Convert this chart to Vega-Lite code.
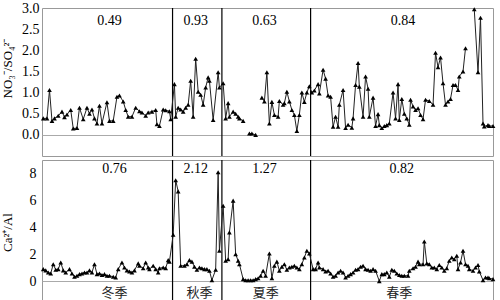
{
  "$schema": "https://vega.github.io/schema/vega-lite/v6.json",
  "padding": {"left": 0, "top": 0, "right": 0, "bottom": 0},
  "spacing": 0,
  "background": "white",
  "config": {
    "view": {"stroke": "#999", "strokeWidth": 1},
    "axis": {"labelFont": "Liberation Serif, Times New Roman, serif", "titleFont": "Liberation Serif, Times New Roman, serif", "labelFontSize": 14, "titleFontSize": 13, "labelColor": "black", "titleColor": "black", "titleFontWeight": "normal", "domain": false}
  },
  "datasets": {
    "no3": [
      {"day":1,"value":0.39,"seg":1},{"day":4,"value":0.39,"seg":1},{"day":6,"value":1.06,"seg":1},{"day":8,"value":0.33,"seg":1},{"day":10,"value":0.39,"seg":1},{"day":13,"value":0.45,"seg":1},{"day":16,"value":0.55,"seg":1},{"day":18,"value":0.42,"seg":1},{"day":20,"value":0.48,"seg":1},{"day":23,"value":0.59,"seg":1},{"day":25,"value":0.15,"seg":1},{"day":28,"value":0.16,"seg":1},{"day":30,"value":0.64,"seg":1},{"day":33,"value":0.37,"seg":1},{"day":36,"value":0.64,"seg":1},{"day":38,"value":0.5,"seg":1},{"day":40,"value":0.6,"seg":1},{"day":42,"value":0.39,"seg":1},{"day":44,"value":0.27,"seg":1},{"day":46,"value":0.69,"seg":1},{"day":48,"value":0.27,"seg":1},{"day":52,"value":0.77,"seg":1},{"day":54,"value":0.33,"seg":1},{"day":57,"value":0.33,"seg":1},{"day":60,"value":0.9,"seg":1},{"day":62,"value":0.93,"seg":1},{"day":65,"value":0.79,"seg":1},{"day":67,"value":0.59,"seg":1},{"day":69,"value":0.43,"seg":1},{"day":72,"value":0.43,"seg":1},{"day":75,"value":0.64,"seg":1},{"day":78,"value":0.56,"seg":1},{"day":80,"value":0.53,"seg":1},{"day":83,"value":0.45,"seg":1},{"day":85,"value":0.53,"seg":1},{"day":88,"value":0.55,"seg":1},{"day":91,"value":0.59,"seg":1},{"day":92,"value":0.25,"seg":1},{"day":94,"value":0.21,"seg":1},{"day":97,"value":0.6,"seg":1},{"day":99,"value":0.58,"seg":1},{"day":102,"value":0.56,"seg":1},{"day":103,"value":0.37,"seg":1},
      {"day":106,"value":1.2,"seg":1},{"day":107,"value":0.43,"seg":1},{"day":109,"value":0.64,"seg":1},{"day":111,"value":0.6,"seg":1},{"day":113,"value":0.55,"seg":1},{"day":115,"value":0.64,"seg":1},{"day":117,"value":0.71,"seg":1},{"day":119,"value":1.28,"seg":1},{"day":121,"value":0.43,"seg":1},{"day":123,"value":1.8,"seg":1},{"day":125,"value":1.02,"seg":1},{"day":127,"value":0.95,"seg":1},{"day":129,"value":0.71,"seg":1},{"day":131,"value":1.12,"seg":1},{"day":133,"value":1.36,"seg":1},{"day":134,"value":1.28,"seg":1},{"day":137,"value":0.35,"seg":1},{"day":141,"value":1.48,"seg":1},{"day":142,"value":1.12,"seg":1},
      {"day":145,"value":1.22,"seg":1},{"day":147,"value":0.39,"seg":1},{"day":149,"value":0.75,"seg":1},{"day":150,"value":0.43,"seg":1},{"day":153,"value":0.55,"seg":1},{"day":155,"value":0.5,"seg":1},{"day":157,"value":0.43,"seg":1},{"day":158,"value":0.39,"seg":1},{"day":161,"value":0.33,"seg":1},{"day":166,"value":0.03,"seg":2},{"day":168,"value":0.03,"seg":2},{"day":171,"value":0.0,"seg":2},{"day":176,"value":0.88,"seg":3},{"day":178,"value":0.79,"seg":3},{"day":180,"value":1.48,"seg":3},{"day":182,"value":0.27,"seg":3},{"day":184,"value":0.78,"seg":3},{"day":186,"value":0.47,"seg":3},{"day":189,"value":0.43,"seg":3},{"day":190,"value":0.8,"seg":3},{"day":193,"value":0.71,"seg":3},{"day":194,"value":0.75,"seg":3},{"day":196,"value":1.02,"seg":3},{"day":198,"value":0.79,"seg":3},{"day":200,"value":0.59,"seg":3},{"day":202,"value":0.47,"seg":3},{"day":204,"value":0.09,"seg":3},{"day":206,"value":0.47,"seg":3},{"day":208,"value":1.0,"seg":3},{"day":210,"value":0.78,"seg":3},{"day":212,"value":1.0,"seg":3},{"day":214,"value":1.15,"seg":3},
      {"day":216,"value":1.0,"seg":3},{"day":218,"value":1.05,"seg":3},{"day":221,"value":1.2,"seg":3},{"day":222,"value":0.98,"seg":3},{"day":225,"value":1.54,"seg":3},{"day":227,"value":1.33,"seg":3},{"day":229,"value":0.93,"seg":3},{"day":231,"value":0.9,"seg":3},{"day":233,"value":0.19,"seg":3},{"day":235,"value":0.43,"seg":3},{"day":237,"value":0.19,"seg":3},{"day":238,"value":0.71,"seg":3},{"day":241,"value":1.06,"seg":3},{"day":243,"value":0.16,"seg":3},{"day":245,"value":0.24,"seg":3},{"day":248,"value":0.17,"seg":3},{"day":249,"value":0.39,"seg":3},{"day":251,"value":1.18,"seg":3},{"day":253,"value":1.7,"seg":3},{"day":254,"value":1.14,"seg":3},{"day":257,"value":0.43,"seg":3},{"day":259,"value":1.38,"seg":3},{"day":261,"value":1.09,"seg":3},{"day":262,"value":0.43,"seg":3},{"day":265,"value":0.88,"seg":3},{"day":267,"value":0.21,"seg":3},{"day":269,"value":0.49,"seg":3},{"day":270,"value":0.23,"seg":3},{"day":272,"value":0.16,"seg":3},{"day":274,"value":0.21,"seg":3},{"day":276,"value":0.23,"seg":3},{"day":278,"value":0.27,"seg":3},{"day":281,"value":1.0,"seg":3},{"day":283,"value":0.39,"seg":3},{"day":285,"value":1.2,"seg":3},{"day":286,"value":0.35,"seg":3},{"day":288,"value":0.85,"seg":3},{"day":290,"value":0.5,"seg":3},{"day":292,"value":0.39,"seg":3},{"day":294,"value":0.24,"seg":3},{"day":295,"value":0.83,"seg":3},{"day":297,"value":0.67,"seg":3},{"day":299,"value":0.59,"seg":3},{"day":301,"value":0.63,"seg":3},{"day":303,"value":0.47,"seg":3},{"day":305,"value":0.37,"seg":3},{"day":307,"value":0.83,"seg":3},{"day":310,"value":0.8,"seg":3},{"day":313,"value":0.71,"seg":3},{"day":315,"value":1.94,"seg":3},{"day":317,"value":1.6,"seg":3},{"day":319,"value":1.83,"seg":3},{"day":321,"value":1.22,"seg":3},{"day":323,"value":0.71,"seg":3},{"day":325,"value":0.79,"seg":3},{"day":327,"value":0.85,"seg":3},{"day":329,"value":1.18,"seg":3},{"day":331,"value":1.18,"seg":3},{"day":333,"value":1.06,"seg":3},{"day":334,"value":1.38,"seg":3},{"day":337,"value":1.5,"seg":3},{"day":339,"value":2.05,"seg":3},{"day":346,"value":2.97,"seg":4},{"day":349,"value":1.48,"seg":4},{"day":351,"value":2.77,"seg":4},{"day":353,"value":0.27,"seg":4},{"day":354,"value":0.2,"seg":4},{"day":357,"value":0.23,"seg":4},{"day":358,"value":0.21,"seg":4},{"day":361,"value":0.21,"seg":4}
    ],
    "ca": [
      {"day":1,"value":0.89},{"day":3,"value":0.8},{"day":5,"value":0.64},{"day":7,"value":0.57},{"day":9,"value":1.26},{"day":11,"value":0.84},{"day":13,"value":0.89},{"day":15,"value":1.38},{"day":17,"value":0.8},{"day":19,"value":0.64},{"day":22,"value":0.89},{"day":24,"value":0.57},{"day":26,"value":0.32},{"day":28,"value":0.4},{"day":30,"value":0.52},{"day":32,"value":0.57},{"day":34,"value":0.64},{"day":36,"value":0.64},{"day":38,"value":0.8},{"day":40,"value":0.64},{"day":42,"value":1.26},{"day":44,"value":0.52},{"day":46,"value":0.57},{"day":48,"value":0.45},{"day":50,"value":0.52},{"day":52,"value":0.4},{"day":54,"value":0.4},{"day":57,"value":0.32},{"day":59,"value":0.27},{"day":61,"value":0.89},{"day":64,"value":1.38},{"day":66,"value":1.01},{"day":68,"value":0.8},{"day":70,"value":0.72},{"day":72,"value":0.64},{"day":74,"value":0.8},{"day":77,"value":1.32},{"day":78,"value":1.14},{"day":81,"value":0.96},{"day":83,"value":1.38},{"day":85,"value":1.01},{"day":86,"value":0.89},{"day":89,"value":1.14},{"day":91,"value":0.89},{"day":93,"value":0.64},{"day":94,"value":0.96},{"day":97,"value":1.01},{"day":99,"value":0.96},{"day":101,"value":1.56},{"day":102,"value":1.45},{"day":105,"value":3.44},
      {"day":107,"value":7.5},{"day":109,"value":6.67},{"day":111,"value":1.14},{"day":114,"value":1.14},{"day":116,"value":1.26},{"day":118,"value":1.56},{"day":120,"value":1.45},{"day":122,"value":1.07},{"day":124,"value":0.84},{"day":126,"value":1.01},{"day":128,"value":0.96},{"day":130,"value":0.89},{"day":132,"value":0.89},{"day":134,"value":0.77},{"day":136,"value":0.07},{"day":139,"value":0.84},{"day":141,"value":8.09},{"day":142,"value":2.26},
      {"day":145,"value":5.6},{"day":147,"value":1.51},{"day":149,"value":1.63},{"day":150,"value":3.62},{"day":153,"value":5.98},{"day":155,"value":2.0},{"day":157,"value":1.51},{"day":158,"value":1.26},{"day":161,"value":0.15},{"day":163,"value":0.07},{"day":165,"value":0.07},{"day":167,"value":0.07},{"day":169,"value":0.07},{"day":171,"value":0.15},{"day":173,"value":0.22},{"day":175,"value":0.4},{"day":177,"value":0.77},{"day":179,"value":0.4},{"day":182,"value":2.05},{"day":184,"value":0.22},{"day":186,"value":1.14},{"day":188,"value":1.45},{"day":190,"value":0.77},{"day":192,"value":1.07},{"day":194,"value":1.26},{"day":196,"value":0.84},{"day":198,"value":1.01},{"day":200,"value":1.07},{"day":202,"value":1.14},{"day":204,"value":1.01},{"day":206,"value":0.89},{"day":208,"value":1.26},{"day":210,"value":1.75},{"day":212,"value":2.26},{"day":214,"value":2.05},
      {"day":217,"value":0.89},{"day":219,"value":0.89},{"day":221,"value":1.38},{"day":222,"value":1.01},{"day":225,"value":0.89},{"day":227,"value":0.72},{"day":229,"value":0.77},{"day":231,"value":0.57},{"day":233,"value":0.32},{"day":235,"value":0.4},{"day":237,"value":0.64},{"day":239,"value":0.77},{"day":241,"value":0.64},{"day":243,"value":0.27},{"day":245,"value":0.4},{"day":247,"value":0.52},{"day":249,"value":0.64},{"day":251,"value":0.84},{"day":253,"value":0.89},{"day":255,"value":1.07},{"day":257,"value":1.14},{"day":259,"value":0.89},{"day":261,"value":0.84},{"day":263,"value":0.77},{"day":265,"value":0.89},{"day":267,"value":0.77},{"day":270,"value":0.0},{"day":272,"value":0.52},{"day":274,"value":0.52},{"day":276,"value":0.64},{"day":278,"value":0.32},{"day":280,"value":0.84},{"day":282,"value":0.77},{"day":284,"value":0.57},{"day":286,"value":0.45},{"day":288,"value":0.4},{"day":290,"value":0.4},{"day":293,"value":0.4},{"day":294,"value":0.77},{"day":297,"value":0.96},{"day":299,"value":1.07},{"day":301,"value":1.45},{"day":302,"value":1.26},{"day":305,"value":1.26},{"day":306,"value":2.95},{"day":308,"value":1.32},{"day":310,"value":1.26},{"day":312,"value":1.01},{"day":314,"value":1.01},{"day":316,"value":0.89},{"day":318,"value":1.2},{"day":320,"value":1.01},{"day":322,"value":0.77},{"day":324,"value":0.96},{"day":326,"value":1.51},{"day":328,"value":1.75},{"day":330,"value":1.63},{"day":332,"value":1.88},{"day":333,"value":0.89},{"day":335,"value":1.38},{"day":337,"value":2.26},{"day":339,"value":1.26},{"day":341,"value":1.14},{"day":342,"value":0.89},{"day":345,"value":0.77},{"day":347,"value":1.01},{"day":349,"value":1.2},{"day":350,"value":0.72},{"day":353,"value":0.07},{"day":355,"value":0.27},{"day":357,"value":0.27},{"day":358,"value":0.22},{"day":361,"value":0.15}
    ],
    "boundsTop": [{"day":104.5,"value":-0.5,"end":3.0},{"day":144,"value":-0.5,"end":3.0},{"day":215,"value":-0.5,"end":3.0}],
    "boundsBottom": [{"day":104.5,"value":-1.7,"end":9},{"day":144,"value":-1.7,"end":9},{"day":215,"value":-1.7,"end":9}],
    "meanTop": [{"day":54,"value":2.69,"label":"0.49"},{"day":123,"value":2.69,"label":"0.93"},{"day":178,"value":2.69,"label":"0.63"},{"day":289,"value":2.69,"label":"0.84"}],
    "meanBottom": [{"day":58,"value":8.33,"label":"0.76"},{"day":123,"value":8.33,"label":"2.12"},{"day":178,"value":8.33,"label":"1.27"},{"day":288,"value":8.33,"label":"0.82"}],
    "seasons": [{"day":58,"value":-0.85,"label":"冬季"},{"day":126,"value":-0.85,"label":"秋季"},{"day":179,"value":-0.85,"label":"夏季"},{"day":286,"value":-0.85,"label":"春季"}]
  },
  "vconcat": [
    {
      "width": 451,
      "height": 148,
      "encoding": {
        "x": {"field": "day", "type": "quantitative", "scale": {"domain": [0, 361], "nice": false}, "axis": null},
        "y": {"field": "value", "type": "quantitative", "scale": {"domain": [-0.5, 3.0], "nice": false, "zero": false},
              "axis": {"title": "NO₃⁻/SO₄²⁻", "values": [0, 0.5, 1, 1.5, 2, 2.5, 3], "format": ".1f", "ticks": false, "labelPadding": 3, "minExtent": 24, "maxExtent": 24, "titlePadding": 4, "titleY": 60,
                       "grid": true, "gridColor": "#aaa", "gridOpacity": {"condition": {"test": "datum.value === 0", "value": 1}, "value": 0}}}
      },
      "layer": [
        {"data": {"name": "boundsTop"}, "mark": {"type": "rule", "color": "black", "strokeWidth": 1.2},
         "encoding": {"y2": {"field": "end"}}},
        {"data": {"name": "no3"}, "mark": {"type": "line", "color": "#222", "strokeWidth": 1},
         "encoding": {"detail": {"field": "seg", "type": "nominal"}}},
        {"data": {"name": "no3"}, "mark": {"type": "point", "shape": "triangle-up", "filled": true, "color": "black", "size": 22, "opacity": 1}},
        {"data": {"name": "meanTop"}, "mark": {"type": "text", "font": "Liberation Serif, Times New Roman, serif", "fontSize": 14, "color": "black"},
         "encoding": {"text": {"field": "label", "type": "nominal"}}}
      ]
    },
    {
      "width": 451,
      "height": 144,
      "encoding": {
        "x": {"field": "day", "type": "quantitative", "scale": {"domain": [0, 361], "nice": false}, "axis": null},
        "y": {"field": "value", "type": "quantitative", "scale": {"domain": [-1.7, 9], "nice": false, "zero": false},
              "axis": {"title": "Ca²⁺/Al", "values": [0, 2, 4, 6, 8], "ticks": false, "labelPadding": 6, "minExtent": 24, "maxExtent": 24, "titlePadding": 4,
                       "grid": true, "gridColor": "#aaa", "gridOpacity": {"condition": {"test": "datum.value === 0", "value": 1}, "value": 0}}}
      },
      "layer": [
        {"data": {"name": "boundsBottom"}, "mark": {"type": "rule", "color": "black", "strokeWidth": 1.2},
         "encoding": {"y2": {"field": "end"}}},
        {"data": {"name": "ca"}, "mark": {"type": "line", "color": "#222", "strokeWidth": 1}},
        {"data": {"name": "ca"}, "mark": {"type": "point", "shape": "triangle-up", "filled": true, "color": "black", "size": 22, "opacity": 1}},
        {"data": {"name": "meanBottom"}, "mark": {"type": "text", "font": "Liberation Serif, Times New Roman, serif", "fontSize": 14, "color": "black"},
         "encoding": {"text": {"field": "label", "type": "nominal"}}},
        {"data": {"name": "seasons"}, "mark": {"type": "text", "font": "Noto Sans CJK SC", "fontSize": 13, "color": "#222"},
         "encoding": {"text": {"field": "label", "type": "nominal"}}}
      ]
    }
  ]
}
